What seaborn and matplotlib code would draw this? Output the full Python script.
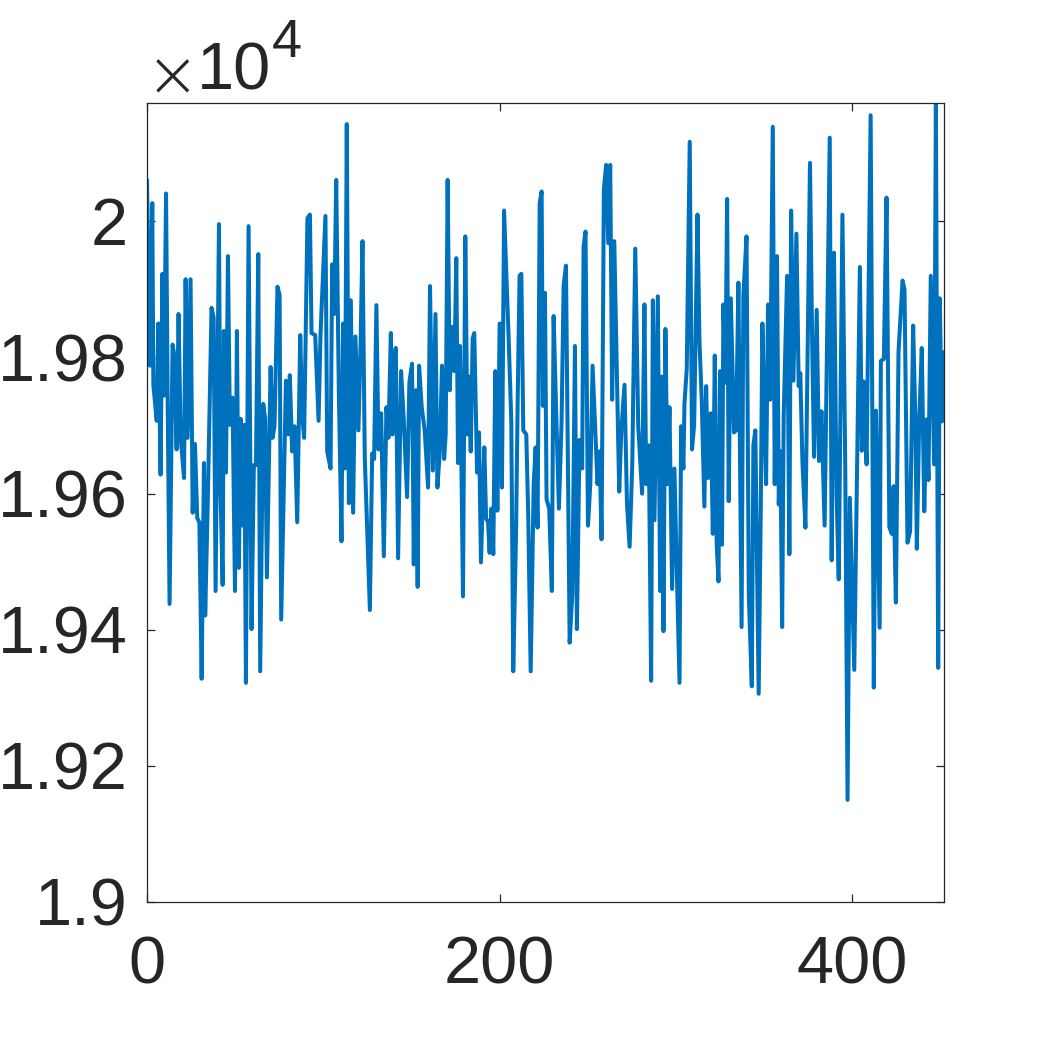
import matplotlib
matplotlib.use("Agg")
import matplotlib.pyplot as plt
import seaborn as sns
import pandas as pd
from matplotlib.ticker import FuncFormatter, FixedLocator

# ---- data (vertices) ----
sample_index = [
    0, 1.7, 3.0, 3.6, 5.5, 6.4, 7.7, 8.7, 9.6, 10.8, 11.7, 12.8, 14.5, 15.5, 16.8, 17.9,
    19.1, 21.0, 21.9, 23.0, 24.7, 25.9, 27.2, 28.5, 29.7, 31.0, 32.3, 33.0, 34.4, 36.6,
    37.8, 38.9, 40.8, 41.7, 42.9, 43.6, 44.8, 45.9, 47.0, 48.5, 49.9, 51.0, 52.1, 53.1,
    54.2, 55.2, 56.1, 57.6,
    59.3, 60.6, 61.8, 63.1, 64.2, 65.9, 67.0, 68.0, 70.1, 71.2, 72.3, 74.0, 75.2, 76.1,
    78.8, 80.1, 81.0, 82.3, 83.7, 85.2, 86.9, 88.0, 89.1, 91.0, 92.4, 93.3, 95.4, 97.3,
    98.4, 101.2, 102.2, 104.1, 105.0, 106.2, 107.3, 108.8,
    110.3, 111.2, 112.2, 113.3, 114.5, 115.6, 116.9, 118.2, 119.9, 121.1, 122.2, 123.5,
    126.4, 127.7, 128.8, 130.1, 131.3, 132.8, 134.3, 135.8, 136.9, 138.3, 139.2, 140.3,
    141.1, 142.4, 144.1, 145.6, 147.5, 148.8, 150.3, 151.3, 152.4, 153.5, 154.3, 155.8,
    157.5, 159.4, 160.5, 162.1, 163.6, 164.7,
    166.0, 167.3, 168.5, 169.4, 170.5, 171.7, 172.8, 174.3, 175.4, 176.4, 177.5, 179.2,
    180.5, 181.7, 182.6, 183.6, 184.7, 185.6, 187.2, 188.3, 189.4, 191.3, 192.3, 193.4,
    194.3, 195.3, 196.4, 197.5, 198.7, 200.0, 201.3, 202.5, 205.1, 206.6, 207.7, 209.3,
    210.2, 211.3, 212.3, 213.4, 215.1, 216.2, 217.6, 219.3, 220.4, 221.5, 222.7, 223.8,
    224.5, 225.7, 226.6, 228.1, 229.6, 230.6, 232.1, 233.6, 235.1, 236.3, 237.6, 239.7,
    241.2, 242.7, 243.8, 245.3, 246.8, 247.6, 248.7, 250.1, 251.4, 252.7, 254.0, 255.5,
    256.7, 257.8, 259.1, 260.4, 261.6, 262.7, 263.8, 265.0, 266.5, 267.8, 269.0, 270.8,
    272.2, 273.7, 275.2, 276.9, 278.6,
    280.8, 282.1, 283.1, 284.6, 285.9, 286.9, 287.8, 289.7, 291.0, 292.0, 292.9, 294.0,
    295.2, 296.3, 297.8, 299.1, 302.0, 302.9, 304.2, 304.8, 306.1, 307.8, 309.1, 310.3,
    312.2, 313.3, 314.6, 316.1, 317.1, 318.2, 319.7, 320.9, 322.0, 323.1, 324.1, 325.0,
    326.1, 326.9, 328.0, 329.0, 329.9, 331.1, 332.9, 334.1, 335.4,
    337.2, 338.2, 340.0, 341.3, 343.0, 343.9, 345.0, 346.9, 348.1, 349.0, 350.1, 351.1,
    352.2, 353.4, 354.9, 356.0, 357.3, 358.3, 359.2, 360.2, 361.1, 363.0, 364.3, 365.3,
    366.6, 368.3, 369.6, 370.5, 371.7, 373.4, 376.0, 377.2, 378.3, 379.8, 381.1, 382.5,
    384.3, 387.2, 388.3, 389.6, 391.1, 392.3, 394.4,
    396.0, 397.3, 398.6, 401.1, 404.3, 405.4, 406.4, 408.1, 410.4, 412.2, 413.4, 415.5,
    416.2, 417.9, 419.4, 421.0, 422.4, 423.4, 424.7, 426.2, 428.5, 429.6, 431.3, 432.8,
    434.5, 435.7, 436.6, 437.9, 439.4, 440.8, 442.1, 443.2, 444.5, 446.4, 447.4, 448.7,
    449.6, 450.8, 452.0,
]
signal_value = [
    20061, 19788, 20027, 19760, 19707, 19850, 19628, 19923, 19744, 20041, 19744, 19438,
    19819, 19803, 19665, 19864, 19682, 19623, 19915, 19682, 19915, 19572, 19673, 19564,
    19558, 19328, 19645, 19421, 19581, 19873, 19859, 19457, 19996, 19603, 19466, 19839,
    19631, 19949, 19701, 19741, 19457, 19839, 19491, 19710, 19553, 19701, 19322, 19993,
    19401, 19642, 19642, 19952, 19339, 19732, 19710, 19477, 19786, 19682, 19699, 19904,
    19892, 19415, 19766, 19687, 19774, 19662, 19699, 19558, 19833, 19716, 19682, 20005,
    20010, 19836, 19833, 19707, 19833, 20008, 19662, 19637, 19937, 19864, 20061, 19749,
    19530, 19850, 19637, 20143, 19586, 19884, 19572, 19831, 19693, 19817, 19971, 19654,
    19429, 19659, 19651, 19877, 19665, 19718, 19508, 19727, 19682, 19836, 19687, 19800,
    19814, 19505, 19780, 19710, 19595, 19763, 19791, 19496, 19752, 19463, 19788, 19727,
    19693, 19609, 19905, 19634, 19864, 19609,
    19660, 19788, 19651, 19687, 20061, 19752, 19845, 19780, 19946, 19645, 19817, 19449,
    19978, 19687, 19772, 19662, 19828, 19836, 19631, 19690, 19499, 19668, 19564, 19558,
    19513, 19578, 19511, 19780, 19575, 19850, 19609, 20016, 19828, 19707, 19339, 19542,
    19735, 19920, 19923, 19693, 19687, 19569, 19339, 19614, 19668, 19550, 20027, 20044,
    19729, 19895, 19592, 19578, 19457, 19861, 19716, 19578, 19704, 19906, 19935, 19381,
    19452, 19817, 19401, 19679, 19637, 19963, 19985, 19553, 19614, 19788, 19707, 19614,
    19662, 19533, 20047, 20083, 19968, 20083, 19738, 19971, 19772, 19603, 19693, 19760,
    19586, 19522, 19642, 19960, 19699,
    19600, 19878, 19614, 19671, 19325, 19884, 19561, 19890, 19457, 19772, 19398, 19842,
    19614, 19727, 19460, 19637, 19322, 19699, 19637, 19732, 19783, 20117, 19665, 19701,
    20010, 19825, 19738, 19581, 19758, 19623, 19718, 19541, 19803, 19525, 19471, 19780,
    19525, 19878, 19763, 20033, 19589, 19887, 19690, 19693, 19910,
    19404, 19890, 19978, 19450, 19317, 19671, 19693, 19306, 19581, 19850, 19710, 19614,
    19878, 19738, 20139, 19614, 19949, 19584, 19662, 19404, 19715, 19920, 19511, 20016,
    19766, 19982, 19758, 19777, 19648, 19550, 20086, 19828, 19654, 19870, 19648, 19721,
    19553, 20123, 19502, 19954, 19597, 19474, 20010,
    19637, 19150, 19594, 19341, 19933, 19663, 19765, 19643, 20156, 19315, 19722, 19403,
    19795, 19798, 20035, 19551, 19541, 19611, 19440, 19808, 19913, 19900, 19528, 19545,
    19847, 19716, 19519, 19703, 19814, 19574, 19709, 19620, 19920, 19643, 20173, 19344,
    19887, 19706, 19808,
]
x_ticks = [0, 200, 400]
y_ticks = [19000, 19200, 19400, 19600, 19800, 20000]
exponent_sign = "\u00d7"
exponent_base = "10"
exponent_power = "4"

df = pd.DataFrame({"x": sample_index, "y": signal_value})

sns.set_theme(style="white")
plt.rcParams["font.family"] = ["Liberation Sans", "DejaVu Sans"]

fig = plt.figure(figsize=(10.43, 10.42), dpi=100)
ax = fig.add_axes([147 / 1043, 1 - 902 / 1042, 797 / 1043, 799 / 1042])

sns.lineplot(data=df, x="x", y="y", ax=ax, color="#0072BD", linewidth=2.9,
             sort=False, estimator=None)

ax.set_xlim(0, 452)
ax.set_ylim(19000, 20174)
ax.xaxis.set_major_locator(FixedLocator(x_ticks))
ax.yaxis.set_major_locator(FixedLocator(y_ticks))
ax.yaxis.set_major_formatter(FuncFormatter(lambda v, p: f"{v / 1e4:g}"))
ax.xaxis.set_major_formatter(FuncFormatter(lambda v, p: f"{v:g}"))
ax.set_xlabel("")
ax.set_ylabel("")

dark = "#262626"
for s in ax.spines.values():
    s.set_visible(True)
    s.set_color(dark)
    s.set_linewidth(0.9)
ax.tick_params(axis="both", which="major", direction="in", length=5.5, width=0.9,
               color=dark, labelcolor=dark, labelsize=48,
               top=True, right=True, bottom=True, left=True)
ax.tick_params(axis="x", pad=24)
ax.tick_params(axis="y", pad=14)

fig.text(172 / 1043, 1 - 72 / 1042, exponent_sign, fontsize=46, color=dark,
         ha="center", va="center_baseline", family=["DejaVu Sans"], fontweight="light")
fig.text(197 / 1043, 1 - 89 / 1042, exponent_base, fontsize=48, color=dark,
         ha="left", va="baseline")
fig.text(272 / 1043, 1 - 57 / 1042, exponent_power, fontsize=39, color=dark,
         ha="left", va="baseline")

fig.savefig("out.png", dpi=100)
